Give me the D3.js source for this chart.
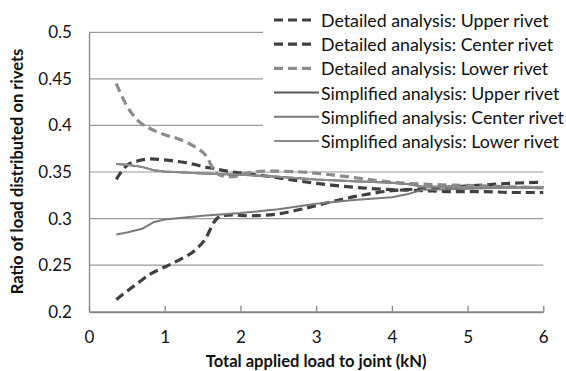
<!DOCTYPE html>
<html>
<head>
<meta charset="utf-8">
<script src="https://cdn.jsdelivr.net/npm/d3@7/dist/d3.min.js"></script>
<style>
  html, body { margin: 0; padding: 0; background: #fff; }
  svg { display: block; font-family: Lato, "Open Sans", sans-serif; }
</style>
</head>
<body>
<svg id="chart" width="566" height="371"></svg>
<script>
// Load share carried by each rivet of a three-rivet lap joint
const detailedLoad = [0.36, 0.5, 0.65, 0.8, 1.0, 1.2, 1.4, 1.55, 1.65, 1.75, 1.9, 2.1, 2.4, 2.8, 3.2, 3.6, 4.0, 4.4, 4.8, 5.2, 5.6, 6.0];
const detailedUpper = [0.213, 0.222, 0.231, 0.240, 0.248, 0.256, 0.266, 0.280, 0.296, 0.303, 0.304, 0.303, 0.304, 0.310, 0.318, 0.325, 0.330, 0.332, 0.334, 0.336, 0.338, 0.339];
const detailedCenter = [0.342, 0.357, 0.362, 0.364, 0.363, 0.361, 0.358, 0.355, 0.354, 0.352, 0.350, 0.348, 0.345, 0.340, 0.336, 0.333, 0.331, 0.330, 0.329, 0.329, 0.328, 0.328];
const detailedLower = [0.445, 0.421, 0.405, 0.397, 0.390, 0.385, 0.377, 0.367, 0.352, 0.346, 0.345, 0.349, 0.351, 0.350, 0.347, 0.343, 0.339, 0.337, 0.336, 0.335, 0.334, 0.333];

const simplifiedLoad = [0.36, 0.5, 0.7, 0.85, 1.0, 1.5, 2.0, 2.5, 3.0, 3.5, 4.0, 4.2, 4.4, 5.0, 5.5, 6.0];
const simplifiedUpper = [0.3585, 0.3578, 0.3555, 0.352, 0.3505, 0.3485, 0.347, 0.345, 0.342, 0.340, 0.3385, 0.337, 0.3345, 0.334, 0.3335, 0.3335];
const simplifiedCenter = [0.283, 0.285, 0.289, 0.296, 0.299, 0.303, 0.306, 0.310, 0.316, 0.320, 0.323, 0.326, 0.331, 0.332, 0.333, 0.333];
const simplifiedLower = [0.3585, 0.3578, 0.3555, 0.352, 0.3505, 0.3485, 0.347, 0.345, 0.342, 0.340, 0.3385, 0.337, 0.3345, 0.334, 0.3335, 0.3335];

const xTicks = [0, 1, 2, 3, 4, 5, 6];
const yTicks = [0.2, 0.25, 0.3, 0.35, 0.4, 0.45, 0.5];
const yTickLabels = ["0.2", "0.25", "0.3", "0.35", "0.4", "0.45", "0.5"];

const seriesNames = [
  "Detailed analysis: Upper rivet",
  "Detailed analysis: Center rivet",
  "Detailed analysis: Lower rivet",
  "Simplified analysis: Upper rivet",
  "Simplified analysis: Center rivet",
  "Simplified analysis: Lower rivet"
];

const series = [
  { name: seriesNames[0], xs: detailedLoad, ys: detailedUpper, color: "#404040", width: 3.2, dash: "9,5" },
  { name: seriesNames[1], xs: detailedLoad, ys: detailedCenter, color: "#404040", width: 3.2, dash: "9,5" },
  { name: seriesNames[2], xs: detailedLoad, ys: detailedLower, color: "#8c8c8c", width: 3.2, dash: "9,5" },
  { name: seriesNames[3], xs: simplifiedLoad, ys: simplifiedUpper, color: "#595959", width: 2, dash: null },
  { name: seriesNames[4], xs: simplifiedLoad, ys: simplifiedCenter, color: "#7a7a7a", width: 2, dash: null },
  { name: seriesNames[5], xs: simplifiedLoad, ys: simplifiedLower, color: "#8c8c8c", width: 2, dash: null }
];

const svg = d3.select("#chart");
const x = d3.scaleLinear().domain([0, 6]).range([89, 543.3]);
const y = d3.scaleLinear().domain([0.2, 0.5]).range([311.7, 32.3]);

// size a font so that a sample string spans the wanted width
function fitSize(sample, weight, targetWidth) {
  const probe = svg.append("text").attr("font-size", 20).attr("font-weight", weight).text(sample);
  const w = probe.node().getComputedTextLength();
  probe.remove();
  return 20 * targetWidth / w;
}
const labelSize = fitSize("0.45", "normal", 33.7);
const legendSize = fitSize(seriesNames[0], "normal", 228);
const titleSize = fitSize("Total applied load to joint (kN)", "bold", 221);

// horizontal gridlines
svg.append("g")
  .selectAll("line")
  .data(yTicks.slice(1))
  .join("line")
  .attr("x1", x(0)).attr("x2", x(6))
  .attr("y1", d => y(d)).attr("y2", d => y(d))
  .attr("stroke", "#9a9a9a").attr("stroke-width", 1.2);

// y axis
const yAxis = svg.append("g")
  .attr("transform", `translate(${x(0)},0)`)
  .call(d3.axisLeft(y).tickValues(yTicks).tickSize(0).tickPadding(17)
    .tickFormat((d, i) => yTickLabels[i]));
yAxis.select(".domain").attr("stroke", "#868686").attr("stroke-width", 1.3);
yAxis.selectAll("text").attr("font-size", labelSize).attr("fill", "#111")
  .attr("font-family", "Lato, sans-serif");

// x axis with inward ticks
const xAxis = svg.append("g")
  .attr("transform", `translate(0,${y(0.2)})`)
  .call(d3.axisBottom(x).tickValues(xTicks).tickSizeInner(-6).tickSizeOuter(0).tickPadding(19)
    .tickFormat(d3.format("d")));
xAxis.select(".domain").attr("stroke", "#868686").attr("stroke-width", 2);
xAxis.selectAll(".tick line").attr("stroke", "#868686").attr("stroke-width", 1.3);
xAxis.selectAll("text").attr("font-size", labelSize).attr("fill", "#111")
  .attr("font-family", "Lato, sans-serif");

// series lines
const plot = svg.append("g");
series.forEach(s => {
  const pts = s.xs.map((v, i) => [v, s.ys[i]]);
  const line = d3.line()
    .x(d => x(d[0])).y(d => y(d[1]))
    .curve(s.dash ? d3.curveMonotoneX : d3.curveLinear);
  plot.append("path")
    .datum(pts)
    .attr("d", line)
    .attr("fill", "none")
    .attr("stroke", s.color)
    .attr("stroke-width", s.width)
    .attr("stroke-linejoin", "round")
    .attr("stroke-dasharray", s.dash);
});

// legend
const legend = svg.append("g");
legend.append("rect")
  .attr("x", 263).attr("y", 4).attr("width", 303).attr("height", 152)
  .attr("fill", "#fff");
series.forEach((s, i) => {
  const cy = 20 + i * 24.2;
  legend.append("line")
    .attr("x1", 274).attr("x2", s.dash ? 311 : 319)
    .attr("y1", cy).attr("y2", cy)
    .attr("stroke", s.color)
    .attr("stroke-width", s.width)
    .attr("stroke-dasharray", s.dash);
  legend.append("text")
    .attr("x", 321).attr("y", cy)
    .attr("dominant-baseline", "central")
    .attr("font-size", legendSize).attr("fill", "#111")
    .text(s.name);
});

// axis titles
svg.append("text")
  .attr("x", (x(0) + x(6)) / 2).attr("y", 367)
  .attr("text-anchor", "middle")
  .attr("font-size", titleSize).attr("font-weight", "bold").attr("fill", "#111")
  .text("Total applied load to joint (kN)");

svg.append("text")
  .attr("transform", "translate(23,171.5) rotate(-90)")
  .attr("text-anchor", "middle")
  .attr("font-size", titleSize).attr("font-weight", "bold").attr("fill", "#111")
  .text("Ratio of load distributed on rivets");
</script>
</body>
</html>
